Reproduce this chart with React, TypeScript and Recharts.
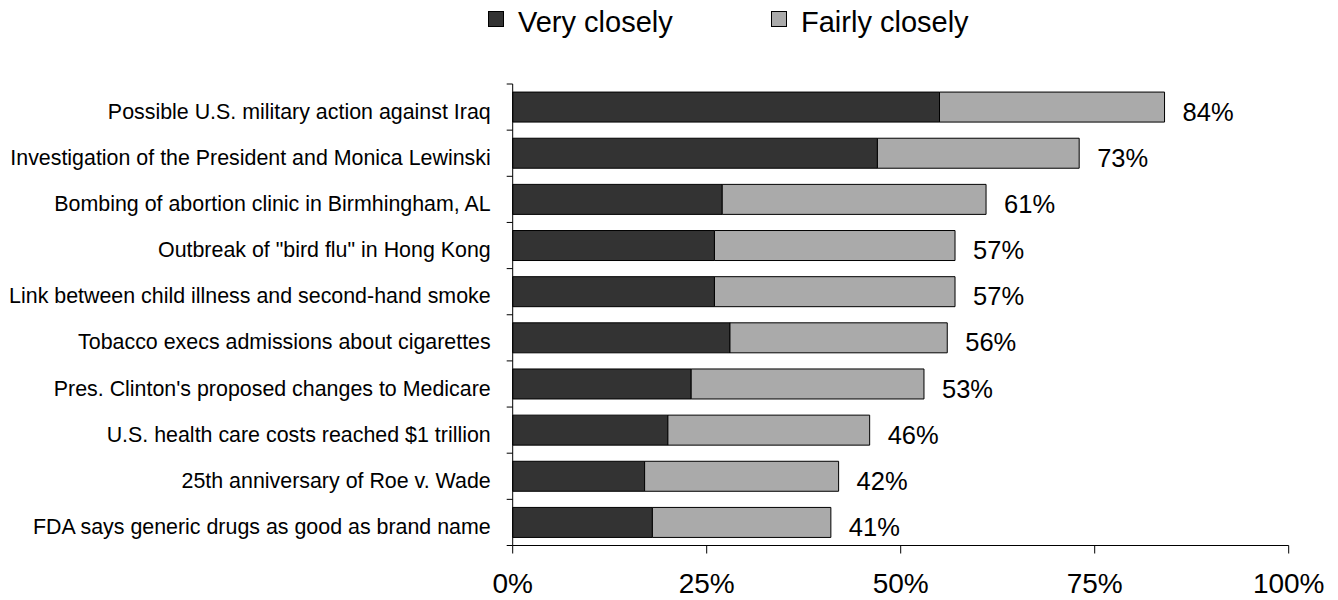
import React from 'react';
import { BarChart, Bar, XAxis, YAxis, Legend, LabelList } from 'recharts';

const FONT = '"Liberation Sans", Arial, Helvetica, sans-serif';

const categories = [
  'Possible U.S. military action against Iraq',
  'Investigation of the President and Monica Lewinski',
  'Bombing of abortion clinic in Birmhingham, AL',
  'Outbreak of "bird flu" in Hong Kong',
  'Link between child illness and second-hand smoke',
  'Tobacco execs admissions about cigarettes',
  "Pres. Clinton's proposed changes to Medicare ",
  'U.S. health care costs reached $1 trillion',
  '25th anniversary of Roe v. Wade',
  'FDA says generic drugs as good as brand name',
];
const veryClosely = [55, 47, 27, 26, 26, 28, 23, 20, 17, 18];
const fairlyClosely = [29, 26, 34, 31, 31, 28, 30, 26, 25, 23];
const totalLabels = ['84%', '73%', '61%', '57%', '57%', '56%', '53%', '46%', '42%', '41%'];
const xTicks = [0, 25, 50, 75, 100];
const seriesNames = ['Very closely', 'Fairly closely'];
const seriesColors = ['#333333', '#AAAAAA'];

const data = categories.map((name, i) => ({
  name,
  very: veryClosely[i],
  fairly: fairlyClosely[i],
  total: totalLabels[i],
}));

const YTick = (props: any) => {
  const { x, y, payload, index, visibleTicksCount, height } = props;
  const band = typeof height === 'number' && visibleTicksCount ? height / visibleTicksCount : 46.15;
  const half = band / 2;
  return (
    <g>
      <line x1={x - 6} x2={x} y1={y - half} y2={y - half} stroke="#000" strokeWidth={1} />
      {index === visibleTicksCount - 1 && (
        <line x1={x - 6} x2={x} y1={y + half} y2={y + half} stroke="#000" strokeWidth={1} />
      )}
      <text x={x - 22} y={y + 4} dy="0.355em" textAnchor="end" fontSize={21.4} fill="#000" fontFamily={FONT}>
        {payload.value}
      </text>
    </g>
  );
};

const TotalLabel = (p: any) => (
  <text
    x={p.x + p.width + 18}
    y={p.y + p.height / 2 + 4.5}
    dy="0.355em"
    fontSize={25.5}
    fill="#000"
    fontFamily={FONT}
  >
    {p.value}
  </text>
);

const legendLefts = [488, 771];

const LegendContent = () => (
  <div style={{ position: 'relative', width: 1338, height: 40, fontFamily: FONT }}>
    {seriesNames.map((label, i) => (
      <React.Fragment key={label}>
        <div
          style={{
            position: 'absolute',
            left: legendLefts[i],
            top: 11,
            width: 16,
            height: 16,
            background: seriesColors[i],
            border: '1px solid #000',
            boxSizing: 'border-box',
          }}
        />
        <div
          style={{
            position: 'absolute',
            left: legendLefts[i] + 30,
            top: 8,
            fontSize: 29,
            lineHeight: '29px',
            color: '#000',
            whiteSpace: 'nowrap',
          }}
        >
          {label}
        </div>
      </React.Fragment>
    ))}
  </div>
);

export default function App() {
  return (
    <div style={{ position: 'absolute', left: 0, top: 0, width: 1338, height: 600, background: '#fff' }}>
      <BarChart
        width={1338}
        height={600}
        data={data}
        layout="vertical"
        margin={{ top: 44, right: 49.3, left: 0, bottom: 0 }}
        barCategoryGap="17.5%"
        style={{ fontFamily: FONT }}
      >
        <Legend
          verticalAlign="top"
          wrapperStyle={{ top: 0, left: 0, width: 1338, height: 40 }}
          content={() => <LegendContent />}
        />
        <XAxis
          type="number"
          domain={[0, 100]}
          ticks={xTicks}
          tickFormatter={(v: number) => `${v}%`}
          tick={{ fontSize: 28, fill: '#000', fontFamily: FONT }}
          tickSize={8}
          tickMargin={20}
          axisLine={{ stroke: '#000' }}
          tickLine={{ stroke: '#000' }}
          height={54.5}
        />
        <YAxis
          type="category"
          dataKey="name"
          width={512.7}
          tickLine={false}
          tickSize={0}
          tickMargin={0}
          interval={0}
          axisLine={{ stroke: '#000' }}
          tick={(p: any) => <YTick {...p} />}
        />
        <Bar dataKey="very" stackId="a" fill={seriesColors[0]} stroke="#000" strokeWidth={1} isAnimationActive={false} />
        <Bar dataKey="fairly" stackId="a" fill={seriesColors[1]} stroke="#000" strokeWidth={1} isAnimationActive={false}>
          <LabelList dataKey="total" content={TotalLabel} />
        </Bar>
      </BarChart>
    </div>
  );
}
